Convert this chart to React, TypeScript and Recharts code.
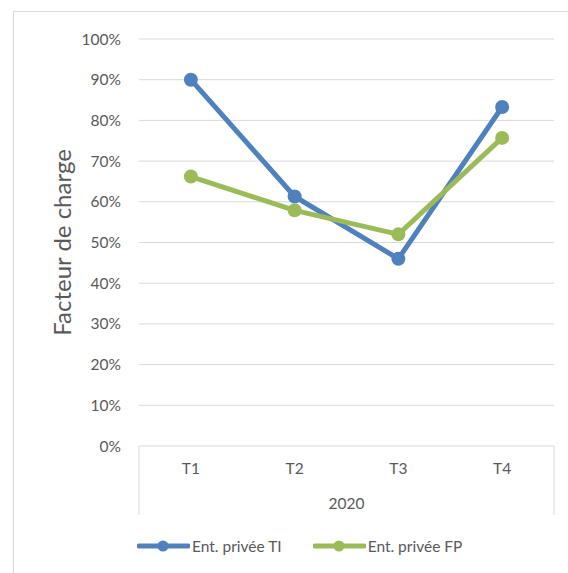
import { CartesianGrid, Line, LineChart, XAxis, YAxis, usePlotArea } from "recharts";

const quarters = ["T1", "T2", "T3", "T4"];
const year = "2020";
const privateTI = [0.9, 0.613, 0.46, 0.833];
const privateFP = [0.662, 0.579, 0.52, 0.757];
const yTicks = [0, 0.1, 0.2, 0.3, 0.4, 0.5, 0.6, 0.7, 0.8, 0.9, 1];

const series = [
  { key: "ti", name: "Ent. privée TI", color: "#4f81bd", values: privateTI },
  { key: "fp", name: "Ent. privée FP", color: "#9bbb59", values: privateFP },
];

const data = quarters.map((q, i) => ({
  quarter: q,
  ti: privateTI[i],
  fp: privateFP[i],
}));

const FONT = "Lato, 'Liberation Sans', sans-serif";
const GREY = "#595959";
const GRID = "#d9d9d9";

// box around the category axis + the year label under the quarters
function CategoryBox() {
  const area = usePlotArea();
  if (!area) return null;
  const left = area.x;
  const right = area.x + area.width;
  const top = area.y + area.height;
  const bottom = top + 69;
  return (
    <g>
      <line x1={left} y1={top} x2={left} y2={bottom} stroke={GRID} />
      <line x1={right} y1={top} x2={right} y2={bottom} stroke={GRID} />
      <text
        x={left + area.width / 2}
        y={top + 63}
        textAnchor="middle"
        fontSize={15.5}
        fill={GREY}
        fontFamily={FONT}
      >
        {year}
      </text>
    </g>
  );
}

export default function App() {
  return (
    <div
      style={{
        position: "absolute",
        left: 0,
        top: 0,
        width: 568,
        height: 573,
        background: "#fff",
        overflow: "hidden",
        fontFamily: FONT,
      }}
    >
      <div
        style={{
          position: "absolute",
          left: 13,
          top: 11,
          width: 600,
          height: 600,
          border: `1px solid ${GRID}`,
        }}
      />
      <div style={{ position: "absolute", left: 0, top: 0 }}>
        <LineChart
          width={568}
          height={573}
          data={data}
          margin={{ top: 39, right: 14, bottom: 58, left: 39 }}
        >
          <CartesianGrid vertical={false} stroke={GRID} />
          <XAxis
            dataKey="quarter"
            scale="band"
            axisLine={false}
            tickLine={false}
            height={69}
            tickMargin={11}
            tick={{ fill: GREY, fontSize: 15.5, fontFamily: FONT }}
          />
          <YAxis
            domain={[0, 1]}
            ticks={yTicks}
            width={100}
            axisLine={false}
            tickLine={false}
            tickMargin={12}
            tickFormatter={(v: number) => `${Math.round(v * 100)}%`}
            tick={{ fill: GREY, fontSize: 15.5, fontFamily: FONT }}
            label={{
              value: "Facteur de charge",
              angle: -90,
              position: "insideLeft",
              offset: 23,
              style: { textAnchor: "middle", fill: GREY, fontSize: 24, fontFamily: FONT },
            }}
          />
          {series.map((s) => (
            <Line
              key={s.key}
              type="linear"
              dataKey={s.key}
              name={s.name}
              stroke={s.color}
              strokeWidth={5}
              dot={{ r: 7, fill: s.color, stroke: s.color, strokeWidth: 0 }}
              activeDot={false}
              isAnimationActive={false}
            />
          ))}
          <CategoryBox />
        </LineChart>
      </div>
      <div
        style={{
          position: "absolute",
          left: 137,
          top: 537,
          display: "flex",
          alignItems: "center",
          fontSize: 15.5,
          color: GREY,
        }}
      >
        {series.map((s) => (
          <div key={s.key} style={{ display: "flex", alignItems: "center", marginRight: 31 }}>
            <svg width={53} height={14}>
              <line x1={2} y1={7} x2={51} y2={7} stroke={s.color} strokeWidth={5} strokeLinecap="round" />
              <circle cx={26} cy={7} r={5.5} fill={s.color} />
            </svg>
            <span style={{ marginLeft: 2 }}>{s.name}</span>
          </div>
        ))}
      </div>
    </div>
  );
}
